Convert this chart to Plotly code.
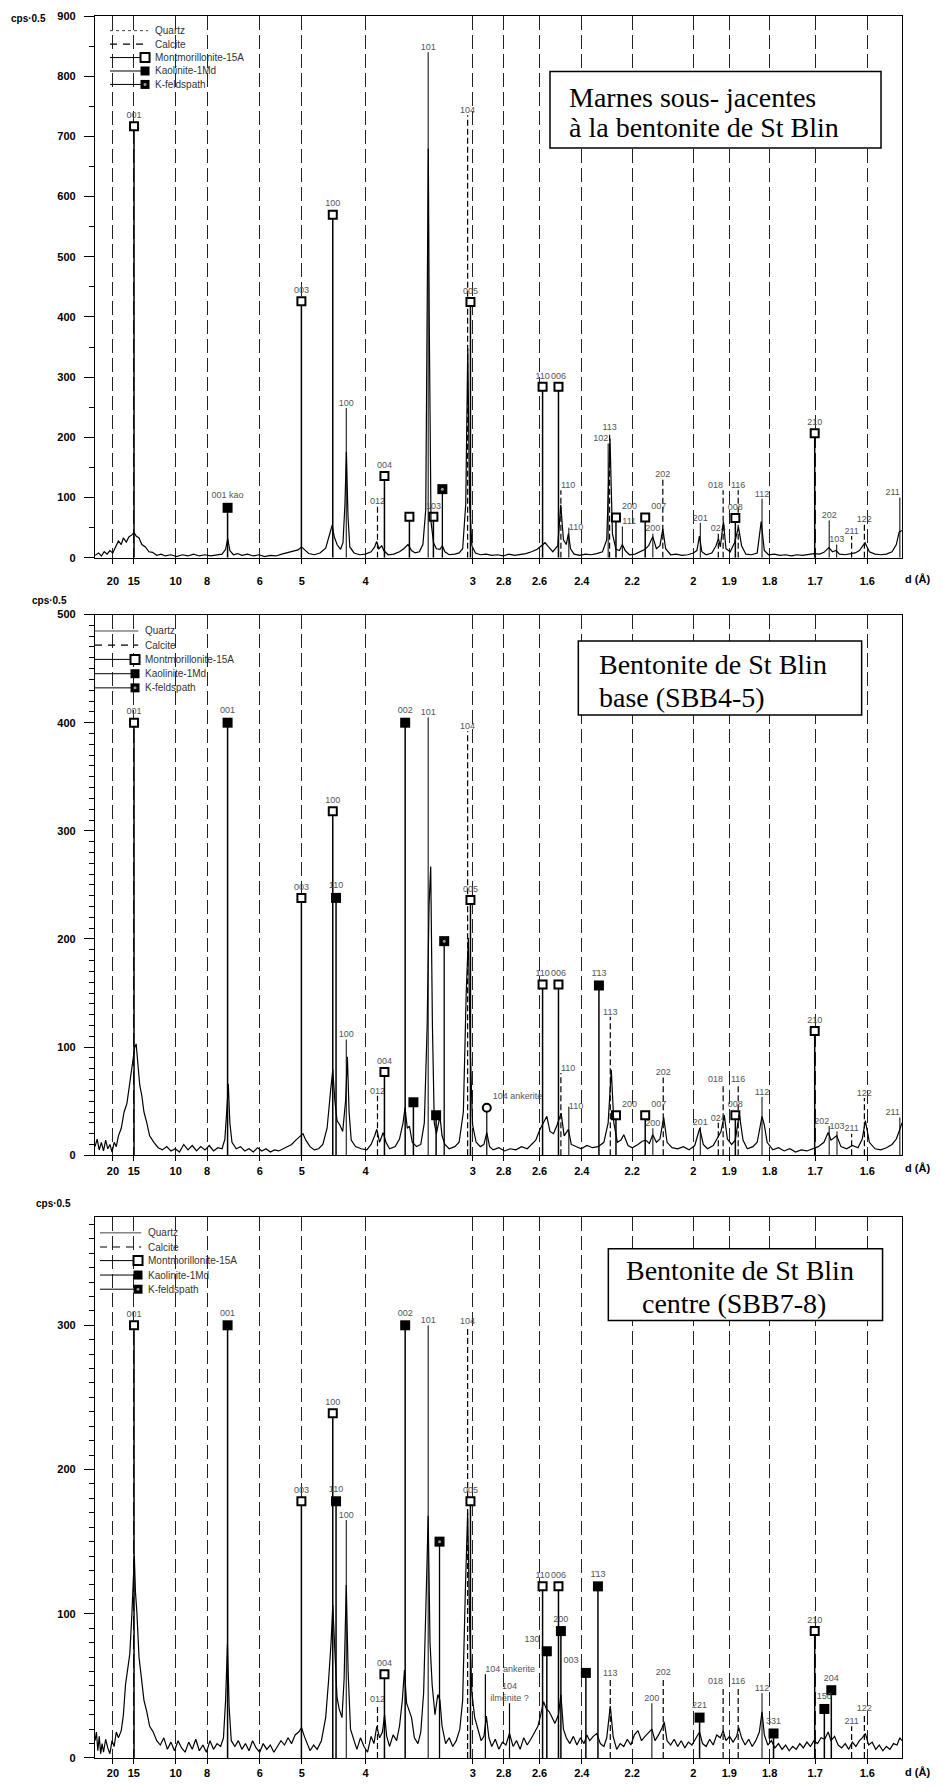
import math
import plotly.graph_objects as go

# Cu K-alpha1 wavelength used to place d-spacings on the 2-theta axis
WAVELENGTH_CU = 1.5406
TWO_THETA_RANGE = [3.15, 60.0]

D_TICKS = [20, 15, 10, 8, 6, 5, 4, 3, 2.8, 2.6, 2.4, 2.2, 2, 1.9, 1.8, 1.7, 1.6]
D_TICK_TEXT = ["20", "15", "10", "8", "6", "5", "4", "3", "2.8", "2.6", "2.4",
               "2.2", "2", "1.9", "1.8", "1.7", "1.6"]

LEGEND_NAMES = ["Quartz", "Calcite", "Montmorillonite-15A", "Kaolinite-1Md", "K-feldspath"]

# ---------------------------------------------------------------- Marnes (top)
MARNES_TITLE = ["Marnes sous- jacentes", "à la bentonite de St Blin"]
MARNES_PROFILE = [
    (3.15, 4), (3.4, 8), (3.6, 3), (3.8, 10), (4.0, 6), (4.2, 12), (4.4, 8), (4.6, 18),
    (4.8, 28), (5.0, 22), (5.15, 33), (5.35, 26), (5.55, 35), (5.75, 38), (5.9, 42),
    (6.05, 36), (6.25, 33), (6.45, 22), (6.7, 18), (6.95, 10), (7.2, 9), (7.5, 4),
    (7.8, 6), (8.1, 3), (8.5, 5), (8.9, 2), (9.3, 5), (9.7, 3), (10.1, 6), (10.5, 3),
    (10.9, 5), (11.3, 3), (11.7, 5), (12.1, 6), (12.35, 14), (12.5, 32), (12.65, 12),
    (12.9, 5), (13.2, 7), (13.5, 4), (13.9, 6), (14.3, 3), (14.7, 5), (15.1, 2),
    (15.5, 4), (15.9, 3), (16.3, 6), (16.7, 8), (17.1, 10), (17.45, 13), (17.7, 18),
    (17.95, 12), (18.2, 7), (18.6, 5), (19.0, 8), (19.4, 16), (19.7, 40), (19.86, 54),
    (20.0, 35), (20.2, 22), (20.45, 14), (20.62, 25), (20.76, 90), (20.86, 176),
    (20.97, 70), (21.1, 18), (21.4, 8), (21.8, 5), (22.2, 6), (22.6, 10), (22.85, 18),
    (22.99, 27), (23.15, 15), (23.35, 20), (23.5, 12), (23.8, 5), (24.2, 6), (24.6, 10),
    (24.9, 15), (25.2, 22), (25.45, 12), (25.7, 8), (26.0, 10), (26.25, 22), (26.45, 80),
    (26.56, 400), (26.63, 680), (26.7, 380), (26.82, 60), (27.0, 25), (27.2, 15),
    (27.45, 14), (27.62, 20), (27.8, 10), (28.1, 5), (28.5, 6), (28.8, 8), (29.05, 15),
    (29.27, 90), (29.41, 348), (29.54, 90), (29.7, 20), (29.95, 8), (30.3, 5), (30.7, 6),
    (31.1, 4), (31.5, 5), (31.9, 3), (32.3, 6), (32.7, 4), (33.1, 5), (33.5, 7),
    (33.9, 10), (34.3, 14), (34.6, 20), (34.85, 25), (35.1, 18), (35.4, 10), (35.75, 20),
    (35.96, 88), (36.15, 30), (36.35, 22), (36.5, 40), (36.65, 15), (36.9, 6), (37.3, 4),
    (37.7, 6), (38.1, 5), (38.5, 7), (38.9, 10), (39.2, 30), (39.43, 198), (39.6, 40),
    (39.85, 14), (40.1, 12), (40.3, 22), (40.5, 12), (40.8, 5), (41.2, 6), (41.6, 10),
    (41.9, 14), (42.15, 20), (42.44, 35), (42.7, 15), (42.95, 20), (43.15, 48),
    (43.35, 15), (43.7, 5), (44.1, 6), (44.5, 4), (44.9, 5), (45.3, 8), (45.55, 12),
    (45.73, 36), (45.9, 10), (46.2, 5), (46.6, 8), (46.9, 20), (47.07, 32), (47.2, 18),
    (47.42, 60), (47.6, 15), (47.9, 10), (48.2, 25), (48.48, 51), (48.7, 20), (49.0, 6),
    (49.4, 5), (49.8, 8), (50.08, 60), (50.3, 12), (50.6, 5), (51.0, 6), (51.4, 4),
    (51.8, 5), (52.2, 3), (52.6, 5), (53.0, 4), (53.4, 6), (53.8, 7), (54.2, 6),
    (54.5, 9), (54.85, 17), (55.1, 10), (55.35, 12), (55.6, 6), (56.0, 5), (56.4, 7),
    (56.7, 8), (57.0, 12), (57.4, 25), (57.7, 10), (58.1, 6), (58.5, 5), (58.9, 6),
    (59.3, 10), (59.6, 22), (59.8, 43), (60.0, 45),
]
MARNES_MONT_2T = [5.90, 17.69, 19.90, 23.54, 25.30, 26.99, 29.60, 34.68, 35.80, 39.85, 41.91, 48.26, 53.85]
MARNES_MONT_H = [717, 426, 570, 136, 68, 68, 425, 284, 284, 67, 67, 66, 207]
MARNES_MONT_HKL = ["001", "003", "100", "004", "", "103", "005", "110", "006", "200", "007", "008", "210"]
MARNES_KAO_2T = [12.49]
MARNES_KAO_H = [83]
MARNES_KAO_HKL = ["001 kao"]
MARNES_KFS_2T = [27.62]
MARNES_KFS_H = [114]
MARNES_QTZ_2T = [20.85, 26.62, 36.53, 39.30, 40.30, 42.45, 45.79, 50.14, 54.87, 55.40, 59.85]
MARNES_QTZ_H = [249, 840, 50, 190, 52, 40, 58, 98, 62, 22, 100]
MARNES_QTZ_HKL = ["100", "101", "110", "102", "111", "200", "201", "112", "202", "103", "211"]
MARNES_CAL_2T = [23.05, 29.40, 35.97, 39.40, 43.15, 47.06, 47.40, 48.46, 56.45, 57.35]
MARNES_CAL_H = [85, 735, 112, 209, 130, 40, 112, 112, 36, 55]
MARNES_CAL_HKL = ["012", "104", "110", "113", "202", "024", "018", "116", "211", "122"]

# ------------------------------------------------------ Bentonite base (middle)
BASE_TITLE = ["Bentonite de St Blin", "base (SBB4-5)"]
BASE_PROFILE = [
    (3.15, 8), (3.3, 15), (3.45, 5), (3.6, 12), (3.75, 4), (3.9, 14), (4.05, 6), (4.2, 10),
    (4.35, 3), (4.5, 12), (4.65, 8), (4.8, 18), (5.0, 25), (5.2, 40), (5.4, 48),
    (5.55, 62), (5.7, 75), (5.85, 88), (5.95, 100), (6.05, 103), (6.15, 90), (6.3, 65),
    (6.45, 55), (6.6, 40), (6.8, 30), (7.0, 18), (7.3, 12), (7.6, 7), (7.9, 5), (8.2, 8),
    (8.5, 4), (8.8, 6), (9.1, 3), (9.4, 10), (9.7, 5), (10.0, 9), (10.3, 4), (10.6, 8),
    (10.9, 5), (11.2, 9), (11.5, 4), (11.8, 7), (12.1, 6), (12.3, 15), (12.45, 45),
    (12.54, 66), (12.65, 30), (12.8, 12), (13.1, 6), (13.4, 8), (13.7, 4), (14.0, 6),
    (14.3, 3), (14.6, 7), (14.9, 4), (15.2, 6), (15.5, 3), (15.8, 5), (16.1, 4), (16.4, 6),
    (16.7, 8), (17.0, 10), (17.3, 14), (17.6, 18), (17.8, 20), (18.0, 14), (18.3, 8),
    (18.6, 5), (18.9, 6), (19.2, 10), (19.5, 25), (19.75, 60), (19.9, 79), (20.05, 50),
    (20.2, 32), (20.4, 28), (20.6, 22), (20.8, 50), (20.93, 91), (21.05, 40), (21.2, 14),
    (21.5, 8), (21.9, 6), (22.3, 5), (22.6, 10), (22.85, 18), (23.0, 24), (23.2, 12),
    (23.45, 21), (23.65, 12), (23.9, 6), (24.3, 8), (24.6, 15), (24.85, 30), (24.99, 44),
    (25.15, 25), (25.3, 27), (25.5, 12), (25.8, 8), (26.1, 10), (26.35, 30), (26.55, 120),
    (26.68, 230), (26.8, 267), (26.92, 120), (27.05, 30), (27.2, 20), (27.45, 36),
    (27.6, 18), (27.8, 10), (28.1, 6), (28.5, 8), (28.8, 12), (29.1, 40), (29.3, 150),
    (29.45, 201), (29.6, 90), (29.75, 28), (30.0, 12), (30.3, 8), (30.55, 10), (30.75, 21),
    (30.95, 8), (31.2, 5), (31.6, 7), (32.0, 4), (32.4, 6), (32.8, 5), (33.2, 8), (33.6, 6),
    (33.9, 10), (34.2, 14), (34.5, 24), (34.75, 30), (34.98, 36), (35.2, 22), (35.45, 20),
    (35.7, 28), (35.99, 39), (36.2, 18), (36.5, 24), (36.7, 10), (37.0, 8), (37.4, 6),
    (37.8, 9), (38.2, 7), (38.6, 8), (39.0, 12), (39.3, 30), (39.52, 79), (39.7, 30),
    (39.95, 12), (40.2, 14), (40.4, 19), (40.7, 9), (41.0, 7), (41.4, 10), (41.7, 13),
    (41.95, 14), (42.2, 11), (42.44, 19), (42.7, 12), (42.95, 15), (43.21, 35),
    (43.45, 12), (43.8, 7), (44.2, 6), (44.6, 8), (45.0, 5), (45.4, 9), (45.75, 25),
    (46.0, 10), (46.3, 6), (46.7, 9), (47.0, 16), (47.25, 22), (47.48, 37), (47.7, 15),
    (48.0, 10), (48.25, 14), (48.54, 38), (48.8, 14), (49.1, 6), (49.5, 8), (49.8, 12),
    (50.14, 36), (50.3, 28), (50.5, 12), (50.9, 5), (51.3, 7), (51.7, 4), (52.1, 6),
    (52.5, 3), (52.9, 5), (53.3, 4), (53.7, 6), (54.1, 8), (54.5, 12), (54.8, 21),
    (55.0, 14), (55.4, 18), (55.7, 8), (56.1, 6), (56.5, 9), (56.9, 7), (57.2, 15),
    (57.42, 32), (57.7, 12), (58.1, 6), (58.5, 5), (58.9, 7), (59.3, 10), (59.6, 15),
    (59.85, 24), (60.0, 30),
]
BASE_MONT_2T = [5.90, 17.69, 19.90, 23.54, 29.60, 34.68, 35.80, 39.85, 41.91, 48.26, 53.85]
BASE_MONT_H = [400, 238, 318, 77, 236, 158, 158, 37, 37, 37, 115]
BASE_MONT_HKL = ["001", "003", "100", "004", "005", "110", "006", "200", "007", "008", "210"]
BASE_KAO_2T = [12.49, 20.13, 25.00, 25.58, 27.18, 38.65]
BASE_KAO_H = [400, 238, 400, 49, 37, 157]
BASE_KAO_HKL = ["001", "110", "002", "", "", "1\u030413"]
BASE_KFS_2T = [27.75]
BASE_KFS_H = [198]
BASE_ANK_2T = [30.75]
BASE_ANK_H = [44]
BASE_ANK_HKL = ["104 ankerite"]
BASE_QTZ_2T = [20.85, 26.62, 36.53, 42.45, 45.79, 50.14, 54.87, 55.42, 59.85]
BASE_QTZ_H = [107, 405, 45, 25, 26, 54, 27, 22, 35]
BASE_QTZ_HKL = ["100", "101", "110", "200", "201", "112", "202", "103", "211"]
BASE_CAL_2T = [23.05, 29.40, 35.97, 39.45, 43.18, 47.06, 47.40, 48.46, 56.45, 57.35]
BASE_CAL_H = [55, 392, 76, 128, 72, 30, 66, 66, 20, 53]
BASE_CAL_HKL = ["012", "104", "110", "113", "202", "024", "018", "116", "211", "122"]

# ---------------------------------------------------- Bentonite centre (bottom)
CENTRE_TITLE = ["Bentonite de St Blin", " centre (SBB7-8)"]
CENTRE_PROFILE = [
    (3.15, 12), (3.25, 18), (3.35, 5), (3.45, 15), (3.55, 3), (3.65, 10), (3.75, 4),
    (3.9, 13), (4.05, 7), (4.2, 3), (4.35, 12), (4.5, 8), (4.65, 18), (4.8, 14), (5.0, 19),
    (5.15, 30), (5.3, 51), (5.45, 60), (5.6, 72), (5.75, 100), (5.85, 120), (5.92, 140),
    (6.0, 115), (6.1, 101), (6.25, 70), (6.4, 55), (6.6, 40), (6.8, 32), (7.0, 22),
    (7.25, 18), (7.5, 12), (7.75, 9), (8.0, 14), (8.25, 6), (8.5, 11), (8.75, 5), (9.0, 12),
    (9.25, 7), (9.5, 4), (9.75, 11), (10.0, 6), (10.25, 13), (10.5, 5), (10.75, 9),
    (11.0, 4), (11.25, 12), (11.5, 6), (11.75, 10), (12.0, 8), (12.2, 14), (12.35, 40),
    (12.48, 79), (12.6, 35), (12.75, 12), (13.0, 8), (13.25, 12), (13.5, 6), (13.75, 10),
    (14.0, 5), (14.25, 12), (14.5, 7), (14.75, 4), (15.0, 10), (15.25, 6), (15.5, 9),
    (15.75, 4), (16.0, 8), (16.25, 12), (16.5, 9), (16.75, 14), (17.0, 10), (17.25, 16),
    (17.5, 18), (17.7, 21), (17.9, 15), (18.1, 10), (18.3, 5), (18.55, 9), (18.8, 6),
    (19.1, 12), (19.4, 28), (19.6, 53), (19.78, 80), (19.9, 106), (20.02, 75), (20.2, 42),
    (20.35, 34), (20.55, 28), (20.7, 55), (20.85, 120), (20.98, 60), (21.15, 20),
    (21.4, 12), (21.6, 6), (21.85, 14), (22.1, 8), (22.35, 4), (22.6, 15), (22.8, 10),
    (23.0, 22), (23.2, 14), (23.4, 18), (23.55, 30), (23.7, 15), (23.9, 8), (24.15, 16),
    (24.4, 12), (24.6, 22), (24.8, 40), (24.95, 61), (25.1, 38), (25.25, 34), (25.45, 28),
    (25.65, 14), (25.9, 10), (26.1, 18), (26.3, 45), (26.5, 120), (26.62, 168),
    (26.75, 80), (26.9, 51), (27.1, 30), (27.3, 44), (27.45, 40), (27.6, 22), (27.85, 10),
    (28.1, 14), (28.35, 8), (28.6, 12), (28.85, 20), (29.05, 40), (29.25, 120),
    (29.4, 170), (29.55, 90), (29.7, 45), (29.9, 28), (30.1, 20), (30.35, 12), (30.55, 15),
    (30.72, 29), (30.9, 14), (31.1, 8), (31.35, 13), (31.6, 6), (31.85, 11), (32.1, 9),
    (32.35, 17), (32.6, 8), (32.85, 12), (33.1, 6), (33.35, 14), (33.6, 9), (33.85, 13),
    (34.1, 18), (34.35, 22), (34.55, 30), (34.75, 39), (34.95, 34), (35.15, 32),
    (35.35, 28), (35.55, 24), (35.8, 30), (35.97, 44), (36.15, 20), (36.35, 14),
    (36.6, 10), (36.85, 15), (37.1, 9), (37.35, 14), (37.6, 10), (37.8, 16), (38.0, 12),
    (38.25, 15), (38.5, 17), (38.75, 10), (39.0, 8), (39.2, 14), (39.45, 36), (39.65, 15),
    (39.9, 6), (40.15, 10), (40.4, 8), (40.65, 13), (40.9, 9), (41.15, 16), (41.4, 19),
    (41.65, 12), (41.9, 15), (42.15, 18), (42.38, 20), (42.6, 12), (42.85, 16),
    (43.1, 21), (43.25, 25), (43.45, 12), (43.7, 9), (43.95, 13), (44.2, 8), (44.45, 12),
    (44.7, 7), (44.95, 11), (45.2, 9), (45.5, 14), (45.74, 18), (45.95, 10), (46.2, 8),
    (46.45, 13), (46.7, 9), (46.95, 16), (47.2, 14), (47.4, 19), (47.6, 12), (47.85, 15),
    (48.1, 11), (48.35, 15), (48.5, 21), (48.7, 14), (48.95, 9), (49.2, 13), (49.45, 8),
    (49.7, 12), (49.95, 18), (50.14, 32), (50.3, 16), (50.55, 9), (50.8, 12), (51.05, 7),
    (51.3, 10), (51.55, 6), (51.8, 9), (52.05, 5), (52.3, 8), (52.55, 6), (52.8, 10),
    (53.05, 7), (53.3, 11), (53.55, 8), (53.8, 12), (54.05, 10), (54.3, 14), (54.55, 13),
    (54.8, 18), (55.0, 12), (55.25, 15), (55.5, 9), (55.75, 7), (56.0, 10), (56.25, 6),
    (56.5, 11), (56.75, 8), (57.0, 12), (57.2, 14), (57.42, 17), (57.65, 9), (57.9, 11),
    (58.15, 6), (58.4, 9), (58.65, 5), (58.9, 8), (59.15, 6), (59.4, 10), (59.65, 9),
    (59.85, 14), (60.0, 12),
]
CENTRE_MONT_2T = [5.90, 17.69, 19.90, 23.54, 29.60, 34.68, 35.80, 53.85]
CENTRE_MONT_H = [300, 178, 239, 58, 178, 119, 119, 88]
CENTRE_MONT_HKL = ["001", "003", "100", "004", "005", "110", "006", "210"]
CENTRE_KAO_2T = [12.49, 20.13, 25.00, 34.98, 35.97, 37.73, 38.58, 45.74, 50.95, 54.53, 55.02]
CENTRE_KAO_H = [300, 178, 300, 74, 88, 59, 119, 28, 17, 34, 47]
CENTRE_KAO_HKL = ["001", "110", "002", "130", "200", "003", "1\u030413", "221", "331", "150", "204"]
CENTRE_KFS_2T = [27.42]
CENTRE_KFS_H = [150]
CENTRE_ANK_2T = [30.65]
CENTRE_ANK_H = [58]
CENTRE_ANK_HKL = ["104 ankerite"]
CENTRE_ILM_2T = [32.35]
CENTRE_ILM_H = [38]
CENTRE_ILM_HKL = ["104<br>ilménite ?"]
CENTRE_QTZ_2T = [20.85, 26.62, 42.38, 50.14]
CENTRE_QTZ_H = [165, 300, 38, 45]
CENTRE_QTZ_HKL = ["100", "101", "200", "112"]
CENTRE_CAL_2T = [23.05, 29.40, 39.45, 43.18, 47.40, 48.46, 56.45, 57.35]
CENTRE_CAL_H = [37, 299, 55, 56, 50, 50, 22, 31]
CENTRE_CAL_HKL = ["012", "104", "113", "202", "018", "116", "211", "122"]


def two_theta(d):
    """Bragg angle 2-theta (degrees) for a d-spacing in angstroms."""
    return 2 * math.degrees(math.asin(WAVELENGTH_CU / (2 * d)))


# ------------------------------------------------------------------- styling
SANS = "Liberation Sans"
SERIF = "Liberation Serif"
LABEL_FONT = dict(family=SANS, size=9, color="#555555")

STICK_LINE = {
    "qtz": dict(color="black", width=1),
    "cal": dict(color="black", width=1.2, dash="6px,3px"),
    "mont": dict(color="black", width=1.5),
    "kao": dict(color="black", width=1.5),
    "kfs": dict(color="black", width=1.3),
    "ank": dict(color="black", width=1.2),
    "ank_line": dict(color="black", width=1.2),
    "ilm": dict(color="black", width=1.2),
}
MARKERS = {
    "mont": dict(symbol="square", size=8, color="white", line=dict(color="black", width=2)),
    "kao": dict(symbol="square", size=10, color="black", line=dict(color="black", width=0)),
    "kfs": dict(symbol="square", size=10, color="black", line=dict(color="black", width=0)),
    "ank": dict(symbol="circle", size=8, color="white", line=dict(color="black", width=2)),
}

# label placement for crowded reflections: (panel, phase, label) -> textposition
LABEL_SIDE = {
    (0, "mont", "200"): "top right", (0, "mont", "007"): "top right",
    (0, "qtz", "102"): "top left", (0, "qtz", "211"): "top left",
    (0, "cal", "110"): "top right", (0, "qtz", "110"): "middle right",
    (0, "qtz", "111"): "top right", (0, "cal", "018"): "top left",
    (1, "ank", "104 ankerite"): "top right", (1, "qtz", "110"): "middle right",
    (1, "cal", "110"): "top right", (1, "mont", "200"): "top right",
    (1, "mont", "007"): "top right", (1, "qtz", "202"): "top left",
    (1, "qtz", "211"): "top left", (1, "cal", "018"): "top left",
    (2, "ank_line", "104 ankerite"): "top right", (2, "kao", "130"): "top left",
    (2, "kao", "003"): "top left", (2, "cal", "018"): "top left",
}

PANELS = [
    dict(title=MARNES_TITLE, profile=MARNES_PROFILE, yrange=[0, 900], minor=50,
         domain=[0.689, 1.0],
         phases=[("cal", MARNES_CAL_2T, MARNES_CAL_H, MARNES_CAL_HKL),
                 ("qtz", MARNES_QTZ_2T, MARNES_QTZ_H, MARNES_QTZ_HKL),
                 ("mont", MARNES_MONT_2T, MARNES_MONT_H, MARNES_MONT_HKL),
                 ("kao", MARNES_KAO_2T, MARNES_KAO_H, MARNES_KAO_HKL),
                 ("kfs", MARNES_KFS_2T, MARNES_KFS_H, None)],
         box=dict(x0=0.5638, x1=0.974, y0=0.7565, y1=0.8976,
                  lines=[(0.5845, 0.8503), (0.5845, 0.7951)]),
         legend=dict(rows=[0.9730, 0.9481, 0.9233, 0.8985, 0.8737], x0=0.0186,
                     xm=0.0620, xt=0.0719, quartz_dash="dot"),
         cps=(-0.0824, 0.995), dlabel_y=-0.0386, standoff=8),
    dict(title=BASE_TITLE, profile=BASE_PROFILE, yrange=[0, 500], minor=10,
         domain=[0.346, 0.6564],
         phases=[("cal", BASE_CAL_2T, BASE_CAL_H, BASE_CAL_HKL),
                 ("qtz", BASE_QTZ_2T, BASE_QTZ_H, BASE_QTZ_HKL),
                 ("mont", BASE_MONT_2T, BASE_MONT_H, BASE_MONT_HKL),
                 ("kao", BASE_KAO_2T, BASE_KAO_H, BASE_KAO_HKL),
                 ("kfs", BASE_KFS_2T, BASE_KFS_H, None),
                 ("ank", BASE_ANK_2T, BASE_ANK_H, BASE_ANK_HKL)],
         box=dict(x0=0.5989, x1=0.95, y0=0.8143, y1=0.9512,
                  lines=[(0.6217, 0.9084), (0.6217, 0.8460)]),
         legend=dict(rows=[0.9696, 0.9433, 0.9171, 0.8906, 0.8644], x0=0.0,
                     xm=0.0496, xt=0.0595, quartz_dash="solid"),
         cps=(-0.0558, 1.026), dlabel_y=-0.0243, standoff=0),
    dict(title=CENTRE_TITLE, profile=CENTRE_PROFILE, yrange=[0, 375], minor=10,
         domain=[0.0, 0.3105],
         phases=[("cal", CENTRE_CAL_2T, CENTRE_CAL_H, CENTRE_CAL_HKL),
                 ("qtz", CENTRE_QTZ_2T, CENTRE_QTZ_H, CENTRE_QTZ_HKL),
                 ("ank_line", CENTRE_ANK_2T, CENTRE_ANK_H, CENTRE_ANK_HKL),
                 ("ilm", CENTRE_ILM_2T, CENTRE_ILM_H, CENTRE_ILM_HKL),
                 ("mont", CENTRE_MONT_2T, CENTRE_MONT_H, CENTRE_MONT_HKL),
                 ("kao", CENTRE_KAO_2T, CENTRE_KAO_H, CENTRE_KAO_HKL),
                 ("kfs", CENTRE_KFS_2T, CENTRE_KFS_H, None)],
         box=dict(x0=0.6361, x1=0.9759, y0=0.8089, y1=0.9416,
                  lines=[(0.6555, 0.9005), (0.6663, 0.8401)]),
         legend=dict(rows=[0.9709, 0.9447, 0.9196, 0.8929, 0.8667], x0=0.0062,
                     xm=0.0533, xt=0.0632, quartz_dash="solid"),
         cps=(-0.052, 1.026), dlabel_y=-0.0264, standoff=0),
]


def stick_path(pos, heights):
    xs, ys = [], []
    for p, h in zip(pos, heights):
        xs += [p, p, None]
        ys += [0, h, None]
    return xs, ys


fig = go.Figure()
tick_vals = [two_theta(d) for d in D_TICKS]

for i, panel in enumerate(PANELS):
    sfx = "" if i == 0 else str(i + 1)
    xa, ya = "x" + sfx, "y" + sfx

    # reference patterns (sticks, markers, hkl labels)
    for phase, pos, heights, labels in panel["phases"]:
        sx, sy = stick_path(pos, heights)
        fig.add_trace(go.Scatter(x=sx, y=sy, mode="lines", line=STICK_LINE[phase],
                                 xaxis=xa, yaxis=ya, hoverinfo="skip", showlegend=False))
        sides = None
        if labels is not None:
            sides = [LABEL_SIDE.get((i, phase, lb), "top center") for lb in labels]
        if phase in MARKERS:
            fig.add_trace(go.Scatter(
                x=pos, y=heights, mode="markers+text" if labels else "markers",
                marker=MARKERS[phase], text=labels, textposition=sides,
                textfont=LABEL_FONT, cliponaxis=False,
                xaxis=xa, yaxis=ya, showlegend=False))
            if phase == "kfs":
                fig.add_trace(go.Scatter(
                    x=pos, y=heights, mode="markers",
                    marker=dict(symbol="circle", size=3, color="#9a9a9a"),
                    xaxis=xa, yaxis=ya, hoverinfo="skip", showlegend=False))
        elif labels is not None:
            fig.add_trace(go.Scatter(
                x=pos, y=heights, mode="text", text=labels, textposition=sides,
                textfont=LABEL_FONT, cliponaxis=False,
                xaxis=xa, yaxis=ya, hoverinfo="skip", showlegend=False))

    # measured diffractogram
    px = [p[0] for p in panel["profile"]]
    py = [p[1] for p in panel["profile"]]
    fig.add_trace(go.Scatter(x=px, y=py, mode="lines",
                             line=dict(color="black", width=1.2),
                             xaxis=xa, yaxis=ya, showlegend=False))

    fig.update_layout({
        "xaxis" + sfx: dict(
            domain=[0, 1], anchor=ya, range=TWO_THETA_RANGE,
            tickmode="array", tickvals=tick_vals, ticktext=D_TICK_TEXT,
            ticks="outside", ticklen=5, tickwidth=1, tickcolor="black",
            ticklabelstandoff=panel["standoff"],
            tickfont=dict(family=SANS, size=11, color="black", weight="bold"),
            showline=True, linecolor="black", linewidth=1.2, mirror=True,
            showgrid=True, gridcolor="#222222", gridwidth=1, griddash="14px,5px",
            zeroline=False),
        "yaxis" + sfx: dict(
            domain=panel["domain"], anchor=xa, range=panel["yrange"],
            tick0=0, dtick=100, ticks="outside", ticklen=10, tickcolor="black",
            ticklabelstandoff=6,
            minor=dict(dtick=panel["minor"], ticks="outside", ticklen=5,
                       tickcolor="black", showgrid=False),
            tickfont=dict(family=SANS, size=11, color="black", weight="bold"),
            showline=True, linecolor="black", linewidth=1.2, mirror=True,
            showgrid=False, zeroline=False),
    })

    # sample name box
    b = panel["box"]
    fig.add_shape(type="rect", xref=xa + " domain", yref=ya + " domain",
                  x0=b["x0"], x1=b["x1"], y0=b["y0"], y1=b["y1"],
                  fillcolor="white", line=dict(color="black", width=1.5), layer="above")
    for (tx, ty), txt in zip(b["lines"], panel["title"]):
        fig.add_annotation(xref=xa + " domain", yref=ya + " domain", x=tx, y=ty,
                           text=txt, showarrow=False, xanchor="left", yanchor="middle",
                           font=dict(family=SERIF, size=28, color="black"))

    # phase key
    lg = panel["legend"]
    line_styles = [dict(color="#444444", width=1, dash=lg["quartz_dash"]),
                   dict(color="black", width=1.2, dash="7px,6px"),
                   dict(color="black", width=1),
                   dict(color="black", width=1),
                   dict(color="black", width=1)]
    for k, (name, row) in enumerate(zip(LEGEND_NAMES, lg["rows"])):
        x_end = lg["xm"] if k >= 2 else lg["xm"] + 0.004
        fig.add_shape(type="line", xref=xa + " domain", yref=ya + " domain",
                      x0=lg["x0"], x1=x_end, y0=row, y1=row,
                      line=line_styles[k], layer="above")
        if k >= 2:
            open_sq = k == 2
            fig.add_shape(type="rect", xref=xa + " domain", yref=ya + " domain",
                          xsizemode="pixel", ysizemode="pixel",
                          xanchor=lg["xm"], yanchor=row, x0=-4.5, x1=4.5, y0=-4.5, y1=4.5,
                          fillcolor="white" if open_sq else "black",
                          line=dict(color="black", width=2 if open_sq else 0),
                          layer="above")
            if k == 4:
                fig.add_shape(type="circle", xref=xa + " domain", yref=ya + " domain",
                              xsizemode="pixel", ysizemode="pixel",
                              xanchor=lg["xm"], yanchor=row, x0=-1.5, x1=1.5,
                              y0=-1.5, y1=1.5, fillcolor="#9a9a9a",
                              line=dict(width=0), layer="above")
        fig.add_annotation(xref=xa + " domain", yref=ya + " domain", x=lg["xt"], y=row,
                           text=name, showarrow=False, xanchor="left", yanchor="middle",
                           font=dict(family=SANS, size=10, color="#333333"))

    # axis captions
    cx, cy = panel["cps"]
    fig.add_annotation(xref="paper", yref=ya + " domain", x=cx, y=cy, text="cps·0.5",
                       showarrow=False, xanchor="center", yanchor="middle",
                       font=dict(family=SANS, size=10, color="black", weight="bold"))
    fig.add_annotation(xref="paper", yref=ya + " domain", x=1.0198, y=panel["dlabel_y"],
                       text="d (Å)", showarrow=False, xanchor="center", yanchor="middle",
                       font=dict(family=SANS, size=11, color="black", weight="bold"))

fig.update_layout(
    width=942, height=1789,
    margin=dict(l=95, r=40, t=10, b=30),
    paper_bgcolor="white", plot_bgcolor="white",
    showlegend=False,
)

fig.write_html("out.html")
